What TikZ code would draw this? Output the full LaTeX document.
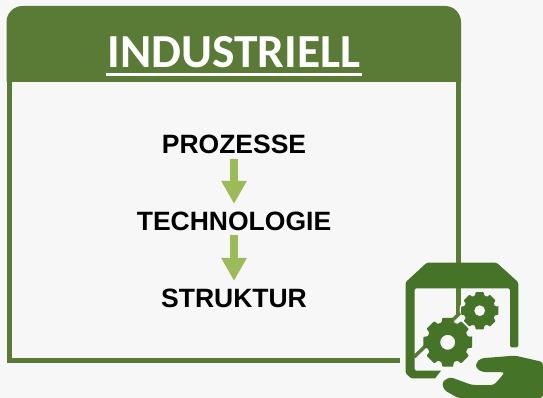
\documentclass[tikz,border=0pt]{standalone}
\usepackage{fontspec}
\setmainfont{Liberation Sans}
\newfontfamily\headfont{Carlito}
\usetikzlibrary{arrows.meta,calc}
\definecolor{framegreen}{HTML}{5A7B35}
\definecolor{icongreen}{HTML}{457327}
\definecolor{arrowgreen}{HTML}{9BBB59}
\definecolor{paper}{HTML}{F7F7F7}
\tikzset{
	steptext/.style={font=\fontsize{26.5}{28}\selectfont\bfseries,text=black,inner sep=0pt},
	steparrow/.style={-{Triangle[length=23pt,width=24pt]},line width=8pt,draw=arrowgreen,shorten <=4.5pt,shorten >=7.5pt},
	iconpart/.style={fill=icongreen,draw=none},
}
% zahnrad: #1 mitte, #2 aussenradius, #3 lochradius, #4 drehung
\newcommand{\gearwheel}[4]{%
	\fill[icongreen,even odd rule,rounded corners=0.8pt] ($(#1)+(#4-12.5:#2)$)
		\foreach \k in {0,...,7}{
			-- ($(#1)+({#4+\k*45+12.5}:#2)$)
			-- ($(#1)+({#4+\k*45+17}:{#2*0.83})$)
			-- ($(#1)+({#4+\k*45+28}:{#2*0.83})$)
			-- ($(#1)+({#4+\k*45+32.5}:#2)$)
		} -- cycle (#1) circle (#3);
}
\begin{document}
\begin{tikzpicture}[x=1pt,y=-1pt]
	\useasboundingbox (0,0) rectangle (543,398);
	\fill[paper] (0,0) rectangle (543,398);
	%rahmen
	\draw[framegreen,line width=5pt] (9,80) -- (9,360) -- (458.5,360) -- (458.5,80);
	\fill[framegreen] (6.5,82) -- (6.5,30) [rounded corners=16pt] -- (6.5,6) -- (461,6) [sharp corners] -- (461,30) -- (461,82) -- cycle;
	\node[text=white,font=\headfont\fontsize{47.4}{50}\selectfont\bfseries,inner sep=0pt] (title) at (234,52.5) {INDUSTRIELL};
	\draw[white,line width=2.7pt] (105.5,74.8) -- (362,74.8);
	%ablauf
	\node[steptext] (prozesse) at (234,144.5) {PROZESSE};
	\node[steptext] (technologie) at (234,221) {TECHNOLOGIE};
	\node[steptext] (struktur) at (234,298) {STRUKTUR};
	\draw[steparrow] (prozesse) -- (technologie);
	\draw[steparrow] (technologie) -- (struktur);
	%symbol
	\fill[paper] (414,357) -- (460,313) -- (510,313) -- (510,380) -- (414,380) -- cycle;
	\fill[paper] (400,352) rectangle (414,368);
	\fill[iconpart,rounded corners=1.5pt] (405.5,282.3) -- (426.7,262.7) -- (496.7,262.7) -- (518.3,282.3) -- (518.3,347.3) -- (510,347.3) -- (510,288.3) -- (414.5,288.3) -- (414.5,370.7) [sharp corners] -- (441,370.7) -- (435,378.4) [rounded corners=1.5pt] -- (411,378.4) -- (405.5,373) -- cycle;
	\fill[paper] (447.7,342.3) circle (26.5) (479.7,310.7) circle (20);
	\draw[framegreen,line width=3.5pt] (414,357) -- (460,313);
	\gearwheel{447.7,342.3}{25}{7.5}{0}
	\gearwheel{479.7,310.7}{19}{5.5}{0}
	\fill[iconpart,rounded corners=3pt] (476,363) -- (481,358.3) -- (515,355.6) -- (543,362) -- (543,398) -- (458,398) -- (444,390) -- (442,382) -- (450,377) -- (472,385) -- (494,385) -- (505,372.3) -- (482,372) -- (476,368) -- cycle;
\end{tikzpicture}
\end{document}
